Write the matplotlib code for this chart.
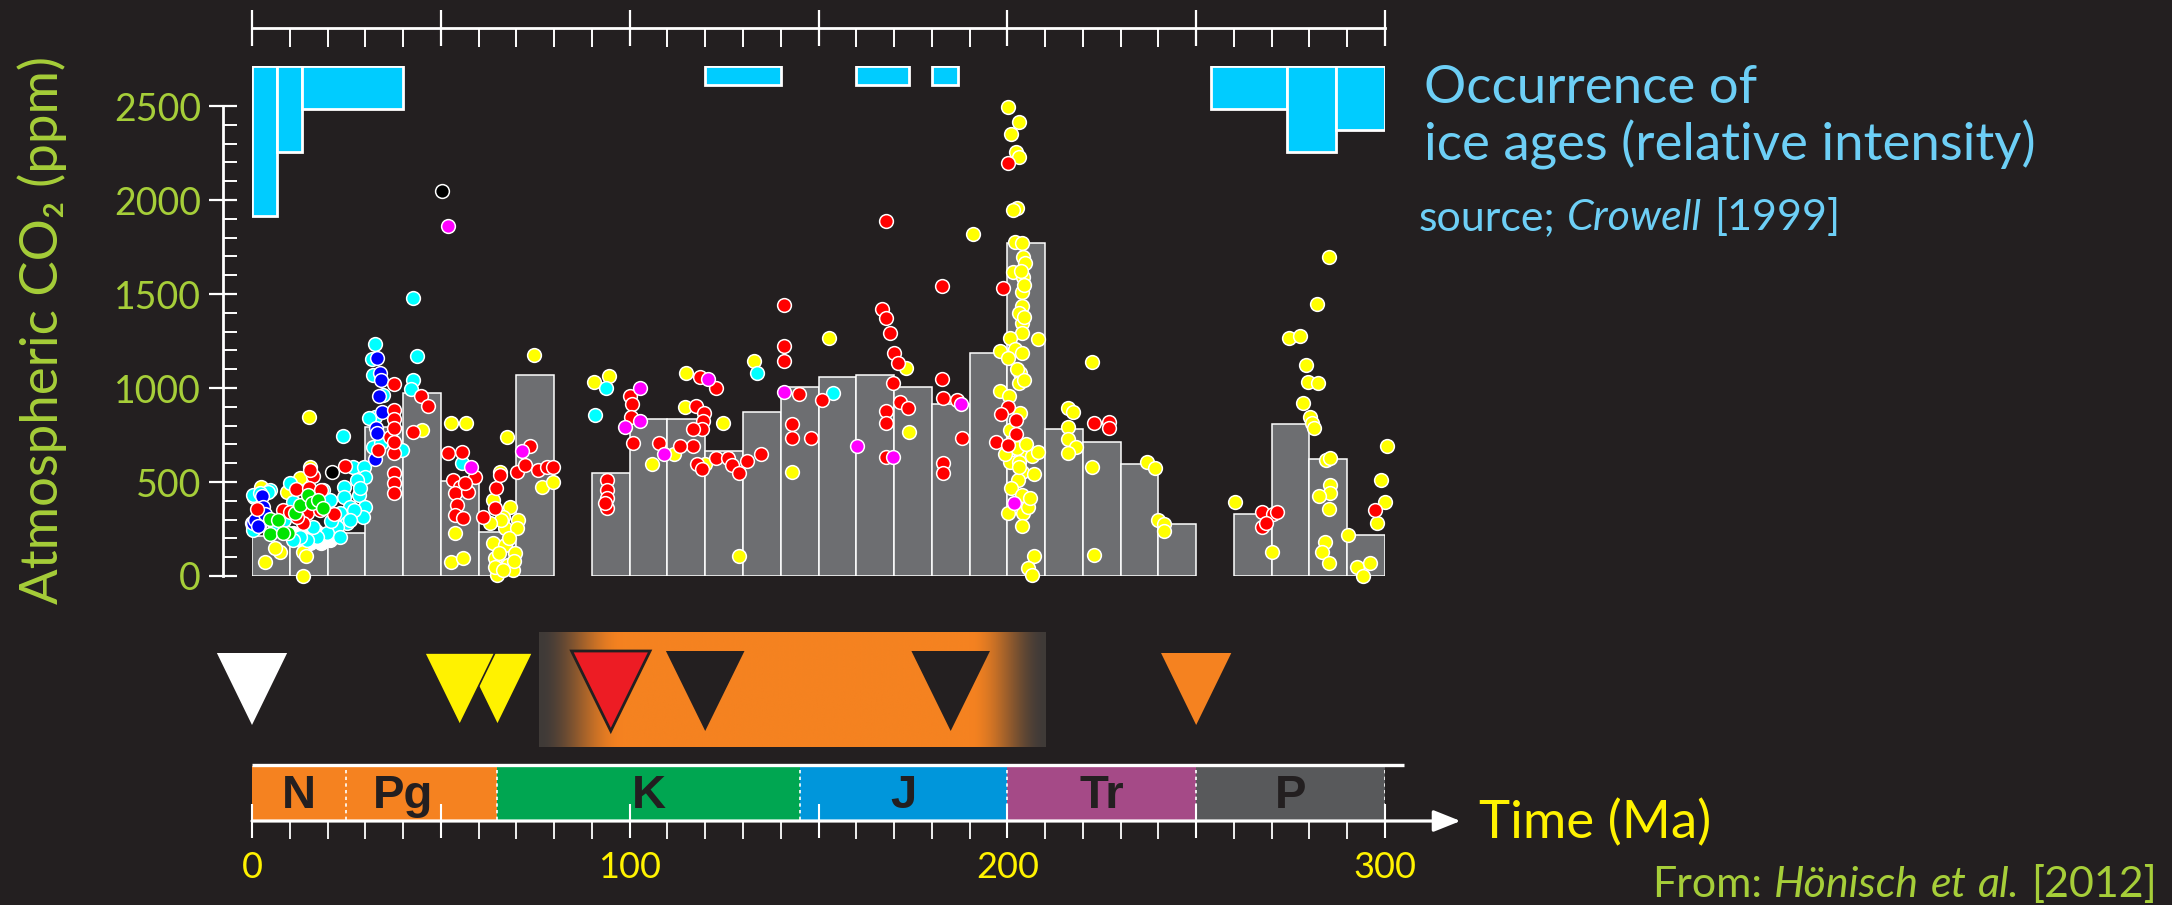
import matplotlib
matplotlib.use('Agg')
import matplotlib.pyplot as plt
import matplotlib.transforms as mtransforms
from matplotlib.ticker import MultipleLocator, FixedLocator, FixedFormatter
import numpy as np

plt.rcParams['font.family'] = ['Lato', 'DejaVu Sans']

# ---------------- data (ages in Ma, CO2 in ppm) ----------------
# 10 Myr bin averages (grey histogram)
bin_start = [0, 10, 20, 30, 40, 50, 60, 70,
             90, 100, 110, 120, 130, 140, 150, 160, 170, 180, 190, 200, 210, 220, 230, 240,
             260, 270, 280, 290]
bin_mean = [215, 205, 230, 794, 975, 505, 236, 1069,
            546, 835, 835, 665, 874, 1007, 1060, 1069, 1004, 915, 1188, 1773, 780, 711, 594, 277,
            328, 809, 624, 218]

# ice ages (Crowell 1999): start, end, relative intensity
ice_start = [0, 6.5, 13.3, 120, 160, 180, 254, 274, 287]
ice_end = [6.5, 13.3, 40, 140, 174, 187, 274, 287, 300]
ice_intensity = [3.5, 2, 1, 0.45, 0.45, 0.45, 1, 2, 1.5]

# proxy estimates, one list of (age, ppm) per proxy colour
white_pts = [(0.2, 263), (0.0, 280), (0.8, 254), (12.7, 209), (14.5, 227), (16.2, 192), (18.0, 209),
             (19.8, 218), (21.5, 227), (15.4, 174), (18.4, 174), (20.7, 192), (10.9, 227), (13.6, 183),
             (17.0, 240), (22.0, 250)]
cyan_pts = [(32.7, 1232), (31.7, 1153), (32.0, 1069), (34.8, 963), (32.6, 848), (33.0, 679), (39.6, 670),
            (24.2, 745), (43.6, 1172), (42.7, 1043), (42.0, 993), (26.8, 582), (29.7, 582), (30.0, 528),
            (27.7, 511), (24.4, 475), (24.4, 422), (28.2, 431), (30.0, 369), (29.3, 316), (25.9, 369),
            (23.3, 334), (25.1, 280), (22.4, 263), (19.8, 227), (17.1, 209), (14.5, 192), (12.7, 209),
            (10.9, 192), (10.1, 493), (4.8, 458), (0.4, 422), (0.3, 245), (10.9, 396), (18.9, 458),
            (20.7, 404), (23.3, 209), (16.2, 263), (31.1, 839), (32.1, 688), (34.2, 706), (0.2, 431),
            (4.3, 449), (42.5, 1477), (55.7, 599), (93.8, 998), (90.7, 855), (133.8, 1081), (153.9, 972),
            (6.0, 270), (8.5, 300), (2.0, 440), (27.0, 350), (28.5, 470), (26.0, 300), (21.0, 290)]
blue_pts = [(33.0, 1158), (33.9, 1078), (34.1, 1043), (33.7, 958), (34.3, 874), (32.8, 786), (33.2, 759),
            (32.6, 622), (2.6, 426), (3.0, 365), (2.1, 280), (0.2, 280), (0.8, 300), (1.5, 265), (3.5, 330)]
green_pts = [(4.8, 302), (7.0, 298), (4.8, 224), (9.6, 231), (11.4, 337), (12.7, 378), (14.9, 431),
             (15.8, 387), (17.6, 404), (18.7, 364), (8.3, 227)]
yellow_pts = [(15.1, 848), (2.3, 475), (12.7, 520), (15.4, 582), (9.2, 449), (3.4, 76), (7.4, 130),
              (6.1, 147), (13.6, 130), (14.3, 107), (13.6, 0), (44.9, 777), (52.6, 812), (56.7, 812),
              (67.6, 738), (74.7, 1176), (90.6, 1030), (94.5, 1064), (76.9, 475), (79.8, 502), (53.7, 227),
              (52.6, 76), (55.8, 94), (65.7, 555), (63.9, 404), (68.3, 369), (70.5, 298), (67.0, 254),
              (70.1, 254), (63.9, 174), (67.0, 165), (69.6, 121), (64.3, 94), (67.9, 59), (64.8, 5),
              (69.2, 32), (64.3, 50), (66.5, 316), (66.0, 300), (68.0, 200), (65.5, 120), (69.5, 80),
              (66.5, 30), (63.0, 280),
              (152.9, 1268), (132.9, 1145), (114.8, 1081), (114.6, 901), (111.8, 649), (105.8, 596),
              (124.8, 812), (119.9, 596), (128.9, 108), (142.9, 555),
              (191.0, 1819), (173.2, 1108), (174.0, 764),
              (200.1, 2493), (203.1, 2413), (201.0, 2351), (202.3, 2257), (203.2, 2227), (202.5, 1959),
              (201.4, 1947), (202.0, 1778), (203.8, 1773), (204.2, 1698), (204.7, 1666), (201.6, 1618),
              (204.2, 1588), (203.8, 1512), (204.0, 1436), (204.0, 1347), (204.0, 1290), (208.0, 1260),
              (200.7, 1264), (198.0, 1198), (202.0, 1205), (204.0, 1184), (200.2, 1161), (203.3, 1081),
              (203.2, 1025), (198.0, 985), (200.5, 957), (203.3, 865), (200.7, 776), (203.3, 661),
              (200.7, 608), (203.2, 608), (206.4, 638), (208.2, 661), (203.8, 555), (207.0, 541),
              (202.9, 510), (200.2, 337), (204.2, 337), (205.5, 365), (204.0, 266), (207.0, 106),
              (205.5, 41), (206.4, 5), (203.5, 1620), (204.5, 1550), (203.0, 1400), (204.5, 1380),
              (202.5, 1100), (204.5, 1040), (201.5, 720), (202.5, 680), (199.5, 650), (205.0, 700),
              (203.0, 580), (201.0, 470), (204.0, 430), (206.0, 415),
              (216.1, 891), (217.5, 874), (216.1, 794), (216.1, 728), (218.3, 688), (216.1, 656),
              (222.3, 1137), (222.3, 582), (222.9, 112), (237.0, 605), (239.1, 576), (240.0, 298),
              (241.4, 275), (241.4, 240),
              (285.2, 1695), (282.1, 1445), (274.6, 1264), (277.5, 1277), (279.2, 1122), (279.5, 1034),
              (282.3, 1028), (278.4, 918), (280.1, 848), (280.6, 816), (281.2, 789), (300.4, 693),
              (284.5, 617), (285.4, 629), (260.3, 395), (298.9, 511), (300.1, 395), (285.4, 484),
              (285.4, 440), (282.5, 427), (285.2, 355), (270.2, 130), (284.1, 179), (283.2, 130),
              (285.2, 67), (290.3, 218), (292.5, 50), (296.0, 67), (294.2, 0), (298.0, 284)]
red_pts = [(37.6, 1021), (37.6, 883), (37.6, 835), (36.5, 741), (37.6, 653), (33.4, 670), (42.5, 764),
           (37.6, 546), (37.6, 493), (37.6, 443), (37.6, 786), (37.6, 715), (24.6, 585), (16.1, 532),
           (15.4, 564), (11.6, 463), (15.2, 467), (18.4, 458), (8.3, 351), (14.5, 333), (13.6, 284),
           (21.8, 328), (18.0, 351), (10.1, 342), (11.8, 316), (1.2, 355), (44.7, 959), (46.7, 904),
           (52.0, 656), (55.5, 661), (73.6, 692), (53.3, 511), (55.1, 475), (53.7, 440), (57.3, 449),
           (54.2, 378), (53.7, 325), (55.9, 307), (59.0, 529), (56.4, 493), (61.2, 312), (64.6, 466),
           (65.7, 537), (64.3, 360), (70.3, 555), (72.3, 590), (75.8, 564), (78.0, 578), (79.6, 582),
           (93.9, 511), (93.9, 458), (93.9, 413), (93.9, 360), (93.5, 387),
           (140.9, 1441), (140.9, 1223), (140.9, 1145), (100.1, 957), (100.5, 915), (100.3, 847),
           (101.0, 706), (122.9, 1002), (117.6, 904), (119.7, 865), (119.3, 826), (119.1, 780),
           (116.8, 780), (116.8, 693), (113.3, 693), (107.8, 706), (117.7, 596), (119.1, 569),
           (122.8, 626), (126.1, 626), (127.0, 590), (128.9, 546), (131.0, 613), (134.8, 649),
           (144.9, 966), (151.0, 936), (142.9, 807), (142.9, 732), (147.9, 732), (118.5, 1057),
           (168.0, 1890), (182.6, 1544), (198.9, 1533), (166.9, 1420), (168.0, 1370), (168.9, 1290),
           (170.1, 1184), (171.1, 1131), (169.6, 1028), (171.7, 923), (173.8, 891), (168.0, 877),
           (168.0, 812), (167.9, 634), (182.6, 1046), (182.9, 945), (186.6, 936), (188.1, 732),
           (182.9, 599), (182.9, 546), (200.1, 900), (198.2, 860), (202.2, 830), (202.2, 753),
           (197.0, 711), (200.2, 697), (200.1, 2195),
           (222.9, 812), (227.0, 821), (227.0, 786), (267.3, 339), (270.4, 330), (271.3, 339),
           (267.3, 262), (268.6, 284), (297.3, 351)]
magenta_pts = [(52.0, 1864), (71.6, 665), (58.0, 582), (102.7, 998), (102.7, 826), (98.8, 794),
               (120.8, 1046), (109.1, 649), (140.9, 977), (169.6, 631), (160.3, 693), (187.7, 915),
               (201.8, 386)]
black_pts = [(50.2, 2050), (21.1, 555)]

# geologic periods
period_names = ['N', 'Pg', 'K', 'J', 'Tr', 'P']
period_start = [0, 25, 65, 145, 200, 250]
period_end = [25, 65, 145, 200, 250, 300]
period_label_x = [12.5, 40, 105, 172.5, 225, 275]
period_colors = ['#f58220', '#f58220', '#00a651', '#0096db', '#a54a87', '#58595b']

# events (triangles)
event_age = [0, 65, 55, 95, 120, 185, 250]
event_color = ['white', '#fff200', '#fff200', '#ed1c24', '#231f20', '#231f20', '#f58220']

# ---------------- figure ----------------
BG = '#231f20'
W, H = 2172, 905
fig = plt.figure(figsize=(W / 100, H / 100), dpi=100, facecolor=BG)

def frac(x0, y_top, w, h):
    return [x0 / W, (H - y_top - h) / H, w / W, h / H]

# main CO2 panel: 0-300 Ma, 0-2500 ppm
ax = fig.add_axes(frac(252, 106, 1133, 470))
ax.set_facecolor('none')
ax.bar(bin_start, bin_mean, width=10, align='edge', color='#6d6e71',
       edgecolor='white', linewidth=1.1, zorder=1)

groups = [(white_pts, 'white'), (yellow_pts, '#ffff00'), (cyan_pts, '#00ffff'),
          (blue_pts, '#0000ff'), (red_pts, '#ff0000'), (green_pts, '#00e400'),
          (magenta_pts, '#ff00ff'), (black_pts, '#000000')]
for pts, c in groups:
    a = np.array(pts)
    ax.scatter(a[:, 0], a[:, 1], s=98, c=c, edgecolors='white', linewidths=1.1,
               zorder=3, clip_on=False)

ax.set_xlim(0, 300)
ax.set_ylim(0, 2500)
ax.spines['right'].set_visible(False)
ax.spines['bottom'].set_visible(False)
for s in ['left', 'top']:
    ax.spines[s].set_color('white')
    ax.spines[s].set_linewidth(2.0)
ax.spines['left'].set_position(('outward', 29 * 0.72))
ax.spines['left'].set_bounds(0, 2500)
ax.spines['top'].set_position(('outward', 78 * 0.72))
ax.spines['top'].set_bounds(0, 300)

ax.xaxis.set_ticks_position('top')
ax.xaxis.set_major_locator(MultipleLocator(50))
ax.xaxis.set_minor_locator(MultipleLocator(10))
ax.tick_params(axis='x', which='major', direction='inout', length=26.6, width=1.6,
               color='white', labeltop=False, labelbottom=False)
ax.tick_params(axis='x', which='minor', direction='in', length=13.7, width=1.4, color='white')

ax.yaxis.set_major_locator(MultipleLocator(500))
ax.yaxis.set_minor_locator(MultipleLocator(100))
ax.tick_params(axis='y', which='major', direction='inout', length=19.5, width=1.6,
               color='white', labelcolor='#a6ce39', labelsize=27, pad=6)
ax.tick_params(axis='y', which='minor', direction='in', length=10, width=1.4, color='white')

# ice-age intensity bars hanging from the top
ax_ice = fig.add_axes(frac(252, 66, 1133, 172))
ax_ice.set_facecolor('none')
ax_ice.bar(ice_start, ice_intensity, width=np.subtract(ice_end, ice_start), align='edge',
           color='#00ccff', edgecolor='white', linewidth=2.0)
ax_ice.set_xlim(0, 300)
ax_ice.set_ylim(4, 0)
ax_ice.axis('off')

# timeline panel (events + periods + time axis)
ax_t = fig.add_axes(frac(252, 621, 1133, 200))
ax_t.set_facecolor('none')

# orange band with faded ends
xs = np.linspace(76, 210, 600)
ramp = np.minimum(np.clip((xs - 76) / 22, 0, 1), np.clip((210 - xs) / 20, 0, 1))
ramp = ramp * ramp * (3 - 2 * ramp)
edge_rgb = np.array([0x3f, 0x3a, 0x38]) / 255
orange_rgb = np.array([0xf5, 0x82, 0x20]) / 255
row = edge_rgb[None, :] * (1 - ramp[:, None]) + orange_rgb[None, :] * ramp[:, None]
ax_t.imshow(row[None, :, :], extent=(76, 210, 74, 188), aspect='auto',
            interpolation='bilinear', zorder=0)

# triangles
for age, col in zip(event_age, event_color):
    big = col in ('#ed1c24', '#231f20')
    hw = 10.4 if big else 9.3
    top, apex = (170, 90) if big else (168, 96)
    ec = '#231f20' if col in ('#ed1c24', '#fff200') else 'none'
    lw = 2.0 if col == '#ed1c24' else 1.2
    ax_t.fill([age - hw, age + hw, age], [top, top, apex], facecolor=col,
              edgecolor=ec, linewidth=lw, zorder=2, clip_on=False)

# period bar
ax_t.bar(period_start, 54, width=np.subtract(period_end, period_start), bottom=1,
         align='edge', color=period_colors, edgecolor='none', zorder=1)
ax_t.vlines(period_start[1:] + [300], 1, 55, colors='white', linestyles=(0, (2, 2)),
            linewidth=1.2, zorder=1.5)
ax_t.plot([0, 305], [56.5, 56.5], color='white', lw=2.4, solid_capstyle='butt',
          zorder=2, clip_on=False)
for name, xl in zip(period_names, period_label_x):
    ax_t.text(xl, 13, name, ha='center', va='baseline', fontsize=34, fontweight='bold',
              family=['Liberation Sans', 'DejaVu Sans'], color=BG, zorder=3)

ax_t.annotate('', xy=(320, 0), xytext=(0, 0), annotation_clip=False,
              arrowprops=dict(arrowstyle='-|>,head_length=0.55,head_width=0.22',
                              mutation_scale=30, color='white', lw=2.3,
                              shrinkA=0, shrinkB=0), zorder=3)

ax_t.set_xlim(0, 300)
ax_t.set_ylim(0, 200)
for s in ax_t.spines.values():
    s.set_visible(False)
ax_t.yaxis.set_visible(False)
ax_t.xaxis.set_major_locator(FixedLocator([0, 50, 100, 150, 200, 250, 300]))
ax_t.xaxis.set_major_formatter(FixedFormatter(['0', '', '100', '', '200', '', '300']))
ax_t.xaxis.set_minor_locator(MultipleLocator(10))
ax_t.tick_params(axis='x', which='major', direction='inout', length=25, width=1.5,
                 color='white', labelcolor='#fff200', labelsize=26, pad=9)
ax_t.tick_params(axis='x', which='minor', direction='out', length=13, width=1.3, color='white')

# ---------------- texts ----------------
fig.text(42 / W, 1 - 330 / H, 'Atmospheric CO\u2082 (ppm)', rotation=90, ha='center',
         va='center', color='#a6ce39', fontsize=38)

ice_col = '#6dcff6'
fig.text(1424 / W, 1 - 103 / H, 'Occurrence of', color=ice_col, fontsize=38, va='baseline')
fig.text(1424 / W, 1 - 160 / H, 'ice ages (relative intensity)', color=ice_col, fontsize=38,
         va='baseline')
fig.text(1479 / W, 1 - 838 / H, 'Time (Ma)', color='#fff200', fontsize=38, va='baseline')

renderer = fig.canvas.get_renderer()

def rich_text(x_px, y_px, parts, size, color, ha='left'):
    ident = mtransforms.IdentityTransform()
    gap = 0.27 * size * 100 / 72
    texts, widths = [], []
    for s, st in parts:
        t = fig.text(0, 0, s, fontsize=size, color=color, style=st, va='baseline',
                     transform=ident)
        texts.append(t)
        widths.append(t.get_window_extent(renderer).width)
    total = sum(widths) + gap * (len(parts) - 1)
    x = x_px if ha == 'left' else x_px - total
    for t, w in zip(texts, widths):
        t.set_position((x, H - y_px))
        x += w + gap

rich_text(1419, 230, [('source;', 'normal'), ('Crowell', 'italic'), ('[1999]', 'normal')],
          31, ice_col)
rich_text(2157, 897, [('From:', 'normal'), ('Hönisch', 'italic'), ('et', 'italic'),
                      ('al.', 'italic'), ('[2012]', 'normal')], 31, '#a6ce39', ha='right')

fig.savefig('out.png', dpi=100, facecolor=BG)
